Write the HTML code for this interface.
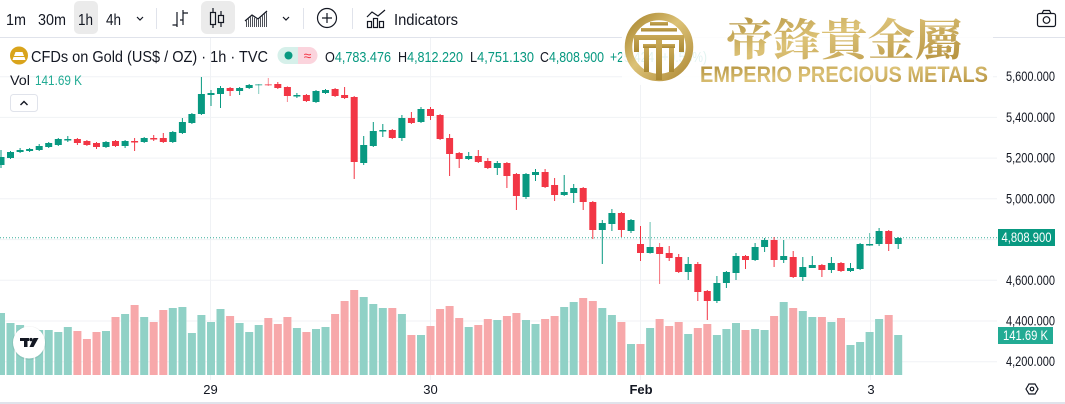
<!DOCTYPE html>
<html><head><meta charset="utf-8"><style>
html,body{margin:0;padding:0;background:#fff;}
svg{display:block;}
text{font-family:"Liberation Sans","Noto Sans CJK SC",sans-serif;}
.cjk{font-family:"Noto Serif CJK SC","Noto Serif CJK SC",serif;font-weight:bold;}
</style></head><body>
<svg width="1065" height="404" viewBox="0 0 1065 404" xmlns="http://www.w3.org/2000/svg">
<defs>
<linearGradient id="gold" x1="0" y1="0" x2="1" y2="1">
<stop offset="0" stop-color="#a9862f"/><stop offset="0.45" stop-color="#dcc277"/><stop offset="1" stop-color="#b08b37"/>
</linearGradient>
<linearGradient id="goldv" x1="0" y1="0" x2="0" y2="1">
<stop offset="0" stop-color="#c9a957"/><stop offset="1" stop-color="#a98834"/>
</linearGradient>
<pattern id="hatch" width="2" height="2" patternUnits="userSpaceOnUse"><rect width="1" height="2" fill="#131722"/></pattern>
</defs>
<rect width="1065" height="404" fill="#fff"/>

<!-- toolbar -->
<rect x="74" y="1" width="24" height="33" rx="5" fill="#ebebeb"/>
<rect x="201" y="1" width="34" height="33" rx="6" fill="#ebebeb"/>
<g fill="#131722" font-size="16">
<text x="6" y="25" textLength="20" lengthAdjust="spacingAndGlyphs">1m</text>
<text x="38" y="25" textLength="28" lengthAdjust="spacingAndGlyphs">30m</text>
<text x="78" y="25" textLength="15" lengthAdjust="spacingAndGlyphs">1h</text>
<text x="106" y="25" textLength="15" lengthAdjust="spacingAndGlyphs">4h</text>
<text x="394" y="25" textLength="64" lengthAdjust="spacingAndGlyphs">Indicators</text>
</g>
<g stroke="#131722" stroke-width="1.2" fill="none">
<path d="M137 17 L140 20 L143 17"/>
<path d="M283 17 L286 20 L289 17"/>
<path d="M177 12 V27 M172.5 25 H177 M183 10 V25 M183 13 H188 M183 20 H180"/>
<path d="M213 8 V28 M221 11 V27"/>
<rect x="210.5" y="12.5" width="5" height="12" fill="#ebebeb"/>
<rect x="218.5" y="15.5" width="5" height="7" fill="#ebebeb"/>
<path d="M245 21 L252 15 L258 19 L267 11"/>
<circle cx="327" cy="18" r="9.5"/>
<path d="M327 13 V23 M322 18 H332"/>
<path d="M367 17 L372 12 L378 16 L385 10"/>
<rect x="367.5" y="21.5" width="4" height="6"/>
<rect x="373.5" y="18.5" width="4" height="9"/>
<rect x="379.5" y="21.5" width="4" height="6"/>
<rect x="1037.5" y="13.5" width="18" height="13" rx="2"/>
<path d="M1042 13.5 L1043.5 10.5 H1049.5 L1051 13.5"/>
<circle cx="1046.5" cy="20" r="3.3"/>
</g>
<polygon points="245,22 252,16 258,20 267,12 267,27 245,27" fill="url(#hatch)" opacity="0.75"/>
<g stroke="#e0e3eb" stroke-width="1">
<path d="M156.5 8 V29 M303.5 8 V29 M352.5 8 V29"/>
</g>
<rect x="0" y="37" width="1065" height="1" fill="#e0e3eb"/>

<!-- grid -->
<g stroke="#f0f2f5" stroke-width="1">
<path d="M0 76.7 H997 M0 117.4 H997 M0 158.1 H997 M0 198.8 H997 M0 239.6 H997 M0 280.3 H997 M0 321 H997 M0 361.7 H997"/>
<path d="M210.5 38 V380 M430.5 38 V380 M640.5 38 V380 M870.5 38 V380"/>
</g>

<!-- volume -->
<g fill="#90d1c6">
<rect x="-3" y="313" width="8" height="62"/><rect x="6.5" y="323" width="8" height="52"/><rect x="16.1" y="325" width="8" height="50"/><rect x="25.6" y="328" width="8" height="47"/><rect x="35.2" y="330" width="8" height="45"/><rect x="44.7" y="330" width="8" height="45"/><rect x="54.3" y="332" width="8" height="43"/><rect x="63.8" y="327" width="8" height="48"/>
<rect x="102" y="331" width="8" height="44"/><rect x="121.1" y="314" width="8" height="61"/><rect x="140.2" y="317" width="8" height="58"/><rect x="168.8" y="308" width="8" height="67"/><rect x="178.4" y="307" width="8" height="68"/><rect x="187.9" y="333" width="8" height="42"/><rect x="197.4" y="315" width="8" height="60"/><rect x="207" y="322" width="8" height="53"/><rect x="216.5" y="309" width="8" height="66"/><rect x="235.6" y="323" width="8" height="52"/><rect x="245.2" y="332" width="8" height="43"/><rect x="254.7" y="325" width="8" height="50"/>
<rect x="292.9" y="328" width="8" height="47"/><rect x="312" y="329" width="8" height="46"/><rect x="321.5" y="327" width="8" height="48"/><rect x="359.7" y="297" width="8" height="78"/><rect x="369.3" y="304" width="8" height="71"/><rect x="378.8" y="308" width="8" height="67"/><rect x="397.9" y="314" width="8" height="61"/><rect x="417" y="335" width="8" height="40"/>
<rect x="464.7" y="327" width="8" height="48"/><rect x="493.3" y="320" width="8" height="55"/><rect x="522" y="320" width="8" height="55"/><rect x="531.5" y="324" width="8" height="51"/><rect x="560.2" y="307" width="8" height="68"/><rect x="569.7" y="302" width="8" height="73"/><rect x="598.3" y="308" width="8" height="67"/><rect x="607.9" y="315" width="8" height="60"/><rect x="627" y="344" width="8" height="31"/><rect x="646.1" y="328" width="8" height="47"/><rect x="684.2" y="334" width="8" height="41"/><rect x="712.9" y="335" width="8" height="40"/><rect x="722.4" y="329" width="8" height="46"/><rect x="732" y="323" width="8" height="52"/><rect x="751.1" y="329" width="8" height="46"/><rect x="760.6" y="330" width="8" height="45"/><rect x="779.7" y="302" width="8" height="73"/><rect x="798.8" y="311" width="8" height="64"/><rect x="808.3" y="317" width="8" height="58"/><rect x="827.4" y="322" width="8" height="53"/><rect x="846.5" y="345" width="8" height="30"/><rect x="856.1" y="342" width="8" height="33"/><rect x="865.6" y="332" width="8" height="43"/><rect x="875.1" y="319" width="8" height="56"/><rect x="894.2" y="335" width="8" height="40"/>
</g>
<g fill="#f7a8aa">
<rect x="73.4" y="331" width="8" height="44"/><rect x="82.9" y="339" width="8" height="36"/><rect x="92.5" y="332" width="8" height="43"/><rect x="111.5" y="317" width="8" height="58"/><rect x="130.6" y="305" width="8" height="70"/><rect x="149.7" y="322" width="8" height="53"/><rect x="159.3" y="310" width="8" height="65"/><rect x="226.1" y="316" width="8" height="59"/><rect x="264.3" y="318" width="8" height="57"/><rect x="273.8" y="324" width="8" height="51"/><rect x="283.4" y="317" width="8" height="58"/><rect x="302.4" y="332" width="8" height="43"/><rect x="331.1" y="314" width="8" height="61"/><rect x="340.6" y="301" width="8" height="74"/><rect x="350.2" y="290" width="8" height="85"/><rect x="388.3" y="308" width="8" height="67"/><rect x="407.4" y="335" width="8" height="40"/><rect x="426.5" y="326" width="8" height="49"/><rect x="436.1" y="309" width="8" height="66"/><rect x="445.6" y="306" width="8" height="69"/><rect x="455.2" y="318" width="8" height="57"/><rect x="474.3" y="325" width="8" height="50"/><rect x="483.8" y="319" width="8" height="56"/><rect x="502.9" y="316" width="8" height="59"/><rect x="512.4" y="313" width="8" height="62"/><rect x="541.1" y="319" width="8" height="56"/><rect x="550.6" y="316" width="8" height="59"/><rect x="579.2" y="298" width="8" height="77"/><rect x="588.8" y="301" width="8" height="74"/><rect x="617.4" y="322" width="8" height="53"/><rect x="636.5" y="344" width="8" height="31"/><rect x="655.6" y="319" width="8" height="56"/><rect x="665.2" y="326" width="8" height="49"/><rect x="674.7" y="322" width="8" height="53"/><rect x="693.8" y="328" width="8" height="47"/><rect x="703.3" y="324" width="8" height="51"/><rect x="741.5" y="330" width="8" height="45"/><rect x="770.1" y="316" width="8" height="59"/><rect x="789.2" y="308" width="8" height="67"/><rect x="817.9" y="317" width="8" height="58"/><rect x="837" y="318" width="8" height="57"/><rect x="884.7" y="315" width="8" height="60"/>
</g>

<path d="M0 237.7 H997" stroke="#089981" stroke-width="1" stroke-dasharray="1 2" opacity="0.8"/>

<!-- candles green -->
<g fill="#089981">
<rect x="0.5" y="150" width="1" height="18"/><rect x="-2.5" y="157" width="7" height="8"/>
<rect x="10" y="151" width="1" height="8"/><rect x="7" y="152" width="7" height="6"/>
<rect x="19.6" y="148" width="1" height="5"/><rect x="16.6" y="150" width="7" height="2"/>
<rect x="29.1" y="148" width="1" height="4"/><rect x="26.1" y="149" width="7" height="2"/>
<rect x="38.7" y="144" width="1" height="7"/><rect x="35.7" y="146" width="7" height="4"/>
<rect x="48.2" y="142" width="1" height="6"/><rect x="45.2" y="143" width="7" height="4"/>
<rect x="57.8" y="138" width="1" height="8"/><rect x="54.8" y="139" width="7" height="6"/>
<rect x="67.3" y="136" width="1" height="6"/><rect x="64.3" y="139" width="7" height="1.5"/>
<rect x="105.5" y="141" width="1" height="7"/><rect x="102.5" y="142" width="7" height="5"/>
<rect x="124.6" y="140" width="1" height="8"/><rect x="121.6" y="141" width="7" height="5"/>
<rect x="143.7" y="137" width="1" height="6"/><rect x="140.7" y="138" width="7" height="4"/>
<rect x="172.3" y="131" width="1" height="12"/><rect x="169.3" y="132" width="7" height="10"/>
<rect x="181.9" y="118" width="1" height="16"/><rect x="178.9" y="122" width="7" height="11"/>
<rect x="191.4" y="113" width="1" height="11"/><rect x="188.4" y="114" width="7" height="9"/>
<rect x="200.9" y="77" width="1" height="38"/><rect x="197.9" y="94" width="7" height="20"/>
<rect x="210.5" y="90" width="1" height="16"/><rect x="207.5" y="93" width="7" height="2"/>
<rect x="220" y="86" width="1" height="22"/><rect x="217" y="88" width="7" height="6"/>
<rect x="239.1" y="87" width="1" height="8"/><rect x="236.1" y="88" width="7" height="3"/>
<rect x="248.7" y="84" width="1" height="5"/><rect x="245.7" y="85" width="7" height="3"/>
<rect x="258.2" y="84" width="1" height="10" opacity="0.5"/><rect x="255.2" y="84" width="7" height="1.5" opacity="0.5"/>
<rect x="296.4" y="93" width="1" height="5"/><rect x="293.4" y="95" width="7" height="1.5"/>
<rect x="315.5" y="90" width="1" height="13"/><rect x="312.5" y="91" width="7" height="11"/>
<rect x="325" y="89" width="1" height="5"/><rect x="322" y="90" width="7" height="3"/>
<rect x="363.2" y="136" width="1" height="29"/><rect x="360.2" y="145" width="7" height="18"/>
<rect x="372.8" y="122" width="1" height="25"/><rect x="369.8" y="131" width="7" height="15"/>
<rect x="382.3" y="124" width="1" height="13"/><rect x="379.3" y="130" width="7" height="1.5"/>
<rect x="401.4" y="115" width="1" height="26"/><rect x="398.4" y="118" width="7" height="20"/>
<rect x="420.5" y="107" width="1" height="16"/><rect x="417.5" y="109" width="7" height="13"/>
<rect x="468.2" y="152" width="1" height="8"/><rect x="465.2" y="156" width="7" height="3"/>
<rect x="496.8" y="161" width="1" height="14"/><rect x="493.8" y="163" width="7" height="5"/>
<rect x="525.5" y="173" width="1" height="26"/><rect x="522.5" y="174" width="7" height="23"/>
<rect x="535" y="169" width="1" height="12"/><rect x="532" y="172" width="7" height="3"/>
<rect x="563.7" y="175" width="1" height="21"/><rect x="560.7" y="192" width="7" height="3"/>
<rect x="573.2" y="184" width="1" height="19"/><rect x="570.2" y="188" width="7" height="5"/>
<rect x="601.8" y="220" width="1" height="44"/><rect x="598.8" y="223" width="7" height="7"/>
<rect x="611.4" y="209" width="1" height="22"/><rect x="608.4" y="213" width="7" height="11"/>
<rect x="630.5" y="219" width="1" height="14"/><rect x="627.5" y="220" width="7" height="11"/>
<rect x="649.6" y="222" width="1" height="32" opacity="0.6"/><rect x="646.6" y="247" width="7" height="6"/>
<rect x="687.7" y="257" width="1" height="23"/><rect x="684.7" y="264" width="7" height="8"/>
<rect x="716.4" y="276" width="1" height="27"/><rect x="713.4" y="283" width="7" height="18"/>
<rect x="725.9" y="271" width="1" height="17"/><rect x="722.9" y="272" width="7" height="11"/>
<rect x="735.5" y="253" width="1" height="27"/><rect x="732.5" y="256" width="7" height="17"/>
<rect x="754.6" y="243" width="1" height="18"/><rect x="751.6" y="247" width="7" height="13"/>
<rect x="764.1" y="238" width="1" height="14"/><rect x="761.1" y="240" width="7" height="7"/>
<rect x="783.2" y="240" width="1" height="23"/><rect x="780.2" y="256" width="7" height="4"/>
<rect x="802.3" y="257" width="1" height="24"/><rect x="799.3" y="267" width="7" height="10"/>
<rect x="811.8" y="256" width="1" height="12"/><rect x="808.8" y="265" width="7" height="3"/>
<rect x="830.9" y="257" width="1" height="16"/><rect x="827.9" y="263" width="7" height="7"/>
<rect x="850" y="263" width="1" height="9"/><rect x="847" y="268" width="7" height="3"/>
<rect x="859.6" y="243" width="1" height="27"/><rect x="856.6" y="244" width="7" height="25"/>
<rect x="869.1" y="233" width="1" height="13" opacity="0.6"/><rect x="866.1" y="244" width="7" height="1.5"/>
<rect x="878.6" y="228" width="1" height="18"/><rect x="875.6" y="231" width="7" height="13"/>
<rect x="897.7" y="237" width="1" height="12"/><rect x="894.7" y="238" width="7" height="6"/>
</g>
<!-- candles red -->
<g fill="#f23645">
<rect x="76.9" y="138" width="1" height="7"/><rect x="73.9" y="139" width="7" height="4"/>
<rect x="86.4" y="140" width="1" height="6"/><rect x="83.4" y="141" width="7" height="4"/>
<rect x="96" y="142" width="1" height="7"/><rect x="93" y="143" width="7" height="4"/>
<rect x="115" y="140" width="1" height="7"/><rect x="112" y="141" width="7" height="5"/>
<rect x="134.1" y="138" width="1" height="13"/><rect x="131.1" y="141" width="7" height="1.5"/>
<rect x="153.2" y="135" width="1" height="6"/><rect x="150.2" y="138" width="7" height="1.5"/>
<rect x="162.8" y="133" width="1" height="10"/><rect x="159.8" y="138" width="7" height="4"/>
<rect x="229.6" y="87" width="1" height="9"/><rect x="226.6" y="88" width="7" height="3"/>
<rect x="267.8" y="78" width="1" height="8" opacity="0.55"/><rect x="264.8" y="84" width="7" height="1.5" opacity="0.55"/>
<rect x="277.3" y="82" width="1" height="7"/><rect x="274.3" y="84" width="7" height="4"/>
<rect x="286.9" y="86" width="1" height="16" opacity="0.6"/><rect x="283.9" y="87" width="7" height="9"/>
<rect x="305.9" y="94" width="1" height="8"/><rect x="302.9" y="95" width="7" height="6"/>
<rect x="334.6" y="88" width="1" height="9"/><rect x="331.6" y="89" width="7" height="7"/>
<rect x="344.1" y="87" width="1" height="12"/><rect x="341.1" y="95" width="7" height="3"/>
<rect x="353.7" y="96" width="1" height="83"/><rect x="350.7" y="97" width="7" height="65"/>
<rect x="391.8" y="129" width="1" height="10"/><rect x="388.8" y="130" width="7" height="8"/>
<rect x="410.9" y="112" width="1" height="12"/><rect x="407.9" y="118" width="7" height="5"/>
<rect x="430" y="107" width="1" height="13"/><rect x="427" y="109" width="7" height="7"/>
<rect x="439.6" y="114" width="1" height="26"/><rect x="436.6" y="115" width="7" height="24"/>
<rect x="449.1" y="134" width="1" height="42"/><rect x="446.1" y="138" width="7" height="16"/>
<rect x="458.7" y="152" width="1" height="16"/><rect x="455.7" y="153" width="7" height="6"/>
<rect x="477.8" y="150" width="1" height="13"/><rect x="474.8" y="156" width="7" height="6"/>
<rect x="487.3" y="158" width="1" height="11"/><rect x="484.3" y="161" width="7" height="7"/>
<rect x="506.4" y="162" width="1" height="26"/><rect x="503.4" y="163" width="7" height="13"/>
<rect x="515.9" y="173" width="1" height="37"/><rect x="512.9" y="174" width="7" height="22"/>
<rect x="544.6" y="169" width="1" height="19"/><rect x="541.6" y="172" width="7" height="15"/>
<rect x="554.1" y="178" width="1" height="23"/><rect x="551.1" y="185" width="7" height="10"/>
<rect x="582.7" y="187" width="1" height="23"/><rect x="579.7" y="188" width="7" height="14"/>
<rect x="592.3" y="201" width="1" height="38"/><rect x="589.3" y="202" width="7" height="28"/>
<rect x="620.9" y="212" width="1" height="25"/><rect x="617.9" y="213" width="7" height="17"/>
<rect x="640" y="226" width="1" height="35"/><rect x="637" y="244" width="7" height="9"/>
<rect x="659.1" y="243" width="1" height="41" opacity="0.7"/><rect x="656.1" y="247" width="7" height="7"/>
<rect x="668.7" y="246" width="1" height="15"/><rect x="665.7" y="253" width="7" height="5"/>
<rect x="678.2" y="254" width="1" height="19"/><rect x="675.2" y="257" width="7" height="15"/>
<rect x="697.3" y="262" width="1" height="39"/><rect x="694.3" y="264" width="7" height="28"/>
<rect x="706.8" y="290" width="1" height="30"/><rect x="703.8" y="291" width="7" height="10"/>
<rect x="745" y="255" width="1" height="14"/><rect x="742" y="256" width="7" height="4"/>
<rect x="773.6" y="237" width="1" height="30"/><rect x="770.6" y="240" width="7" height="20"/>
<rect x="792.7" y="251" width="1" height="27"/><rect x="789.7" y="257" width="7" height="20"/>
<rect x="821.4" y="264" width="1" height="13"/><rect x="818.4" y="265" width="7" height="5"/>
<rect x="840.5" y="262" width="1" height="10"/><rect x="837.5" y="263" width="7" height="8"/>
<rect x="888.2" y="230" width="1" height="21"/><rect x="885.2" y="231" width="7" height="13"/>
</g>

<!-- legend -->
<circle cx="19" cy="55.5" r="9" fill="#d9a41c"/>
<path d="M14 56 L15.5 52 H22.5 L24 56 Z M12.5 60 L13.5 57 H24.5 L25.5 60 Z" fill="#fff"/>
<text x="31" y="62" font-size="16" fill="#131722" textLength="237" lengthAdjust="spacingAndGlyphs">CFDs on Gold (US$ / OZ) · 1h · TVC</text>
<path d="M286 47 H298 V64 H286 A8.5 8.5 0 0 1 286 47 Z" fill="#d6f0ea"/>
<path d="M298 47 H309 A8.5 8.5 0 0 1 309 64 H298 Z" fill="#fbd4dd"/>
<circle cx="288.5" cy="55.5" r="4" fill="#089981"/>
<text x="307.5" y="60.5" font-size="14" fill="#f23645" text-anchor="middle">≈</text>
<g font-size="15">
<text x="325" y="62" textLength="66" lengthAdjust="spacingAndGlyphs"><tspan fill="#131722">O</tspan><tspan fill="#089981">4,783.476</tspan></text>
<text x="398" y="62" textLength="65" lengthAdjust="spacingAndGlyphs"><tspan fill="#131722">H</tspan><tspan fill="#089981">4,812.220</tspan></text>
<text x="470" y="62" textLength="64" lengthAdjust="spacingAndGlyphs"><tspan fill="#131722">L</tspan><tspan fill="#089981">4,751.130</tspan></text>
<text x="540" y="62" textLength="64" lengthAdjust="spacingAndGlyphs"><tspan fill="#131722">C</tspan><tspan fill="#089981">4,808.900</tspan></text>
<text x="610" y="62" fill="#089981" textLength="97" lengthAdjust="spacingAndGlyphs">+25.424 (+0.53%)</text>
</g>
<text x="10" y="85" font-size="14" fill="#131722" textLength="20" lengthAdjust="spacingAndGlyphs">Vol</text>
<text x="35" y="85" font-size="14" fill="#22ab94" textLength="47" lengthAdjust="spacingAndGlyphs">141.69 K</text>
<rect x="10.5" y="94.5" width="27" height="17" rx="3" fill="#fff" stroke="#e0e3eb"/>
<path d="M20.5 105 L24 101.5 L27.5 105" stroke="#131722" stroke-width="1.4" fill="none"/>

<!-- TV logo -->
<circle cx="29" cy="343" r="17" fill="#000" opacity="0.06"/>
<circle cx="29" cy="342.5" r="16" fill="#fff"/>
<g fill="#131722">
<rect x="20" y="338" width="9" height="3"/><rect x="24" y="338" width="3.5" height="9"/>
<circle cx="31" cy="339.6" r="1.7"/>
<polygon points="33.5,338 38.5,338 33.5,347 29.5,347"/>
</g>

<!-- logo overlay -->
<rect x="622" y="9" width="371" height="76" fill="#fff" opacity="0.88"/>
<circle cx="659" cy="47" r="30.5" fill="none" stroke="url(#gold)" stroke-width="7.5"/>
<g fill="url(#goldv)">
<rect x="650" y="22" width="18" height="3.5"/>
<rect x="641" y="28" width="36" height="3.5"/>
<path d="M634 35 H684 V52 H679 V40 H639 V52 H634 Z"/>
<rect x="643" y="44" width="32" height="4"/>
<rect x="656" y="40" width="6" height="40"/>
<rect x="644" y="48" width="5" height="24"/>
<rect x="669" y="48" width="5" height="24"/>
</g>
<text class="cjk" x="726" y="55" font-size="44" fill="url(#gold)" textLength="236" lengthAdjust="spacingAndGlyphs">帝鋒貴金屬</text>
<text x="700" y="82" font-size="22" font-weight="bold" fill="url(#gold)" textLength="288" lengthAdjust="spacingAndGlyphs">EMPERIO PRECIOUS METALS</text>

<!-- right price axis -->
<g font-size="13.5" fill="#131722" text-anchor="end">
<text x="1055" y="81" textLength="49" lengthAdjust="spacingAndGlyphs">5,600.000</text>
<text x="1055" y="122" textLength="49" lengthAdjust="spacingAndGlyphs">5,400.000</text>
<text x="1055" y="162.6" textLength="49" lengthAdjust="spacingAndGlyphs">5,200.000</text>
<text x="1055" y="203.3" textLength="49" lengthAdjust="spacingAndGlyphs">5,000.000</text>
<text x="1055" y="284.8" textLength="49" lengthAdjust="spacingAndGlyphs">4,600.000</text>
<text x="1055" y="325.5" textLength="49" lengthAdjust="spacingAndGlyphs">4,400.000</text>
<text x="1055" y="366.2" textLength="49" lengthAdjust="spacingAndGlyphs">4,200.000</text>
</g>
<rect x="998" y="229" width="57" height="17" fill="#089981"/>
<text x="1026.5" y="242" font-size="13.5" fill="#fff" text-anchor="middle" textLength="50" lengthAdjust="spacingAndGlyphs">4,808.900</text>
<rect x="998" y="327" width="55" height="17" fill="#22ab94"/>
<text x="1025.5" y="340" font-size="13.5" fill="#fff" text-anchor="middle" textLength="45" lengthAdjust="spacingAndGlyphs">141.69 K</text>
<g stroke="#131722" stroke-width="1.2" fill="none">
<polygon points="1026,389 1029,384 1035,384 1038,389 1035,394 1029,394"/>
<circle cx="1032" cy="389" r="1.8"/>
</g>

<!-- time axis -->
<g font-size="13" fill="#131722" text-anchor="middle">
<text x="210.5" y="394">29</text>
<text x="430.5" y="394">30</text>
<text x="641" y="394" font-weight="bold">Feb</text>
<text x="871" y="394">3</text>
</g>
<rect x="0" y="402" width="1065" height="2" fill="#e0e3eb"/>
</svg>
</body></html>
